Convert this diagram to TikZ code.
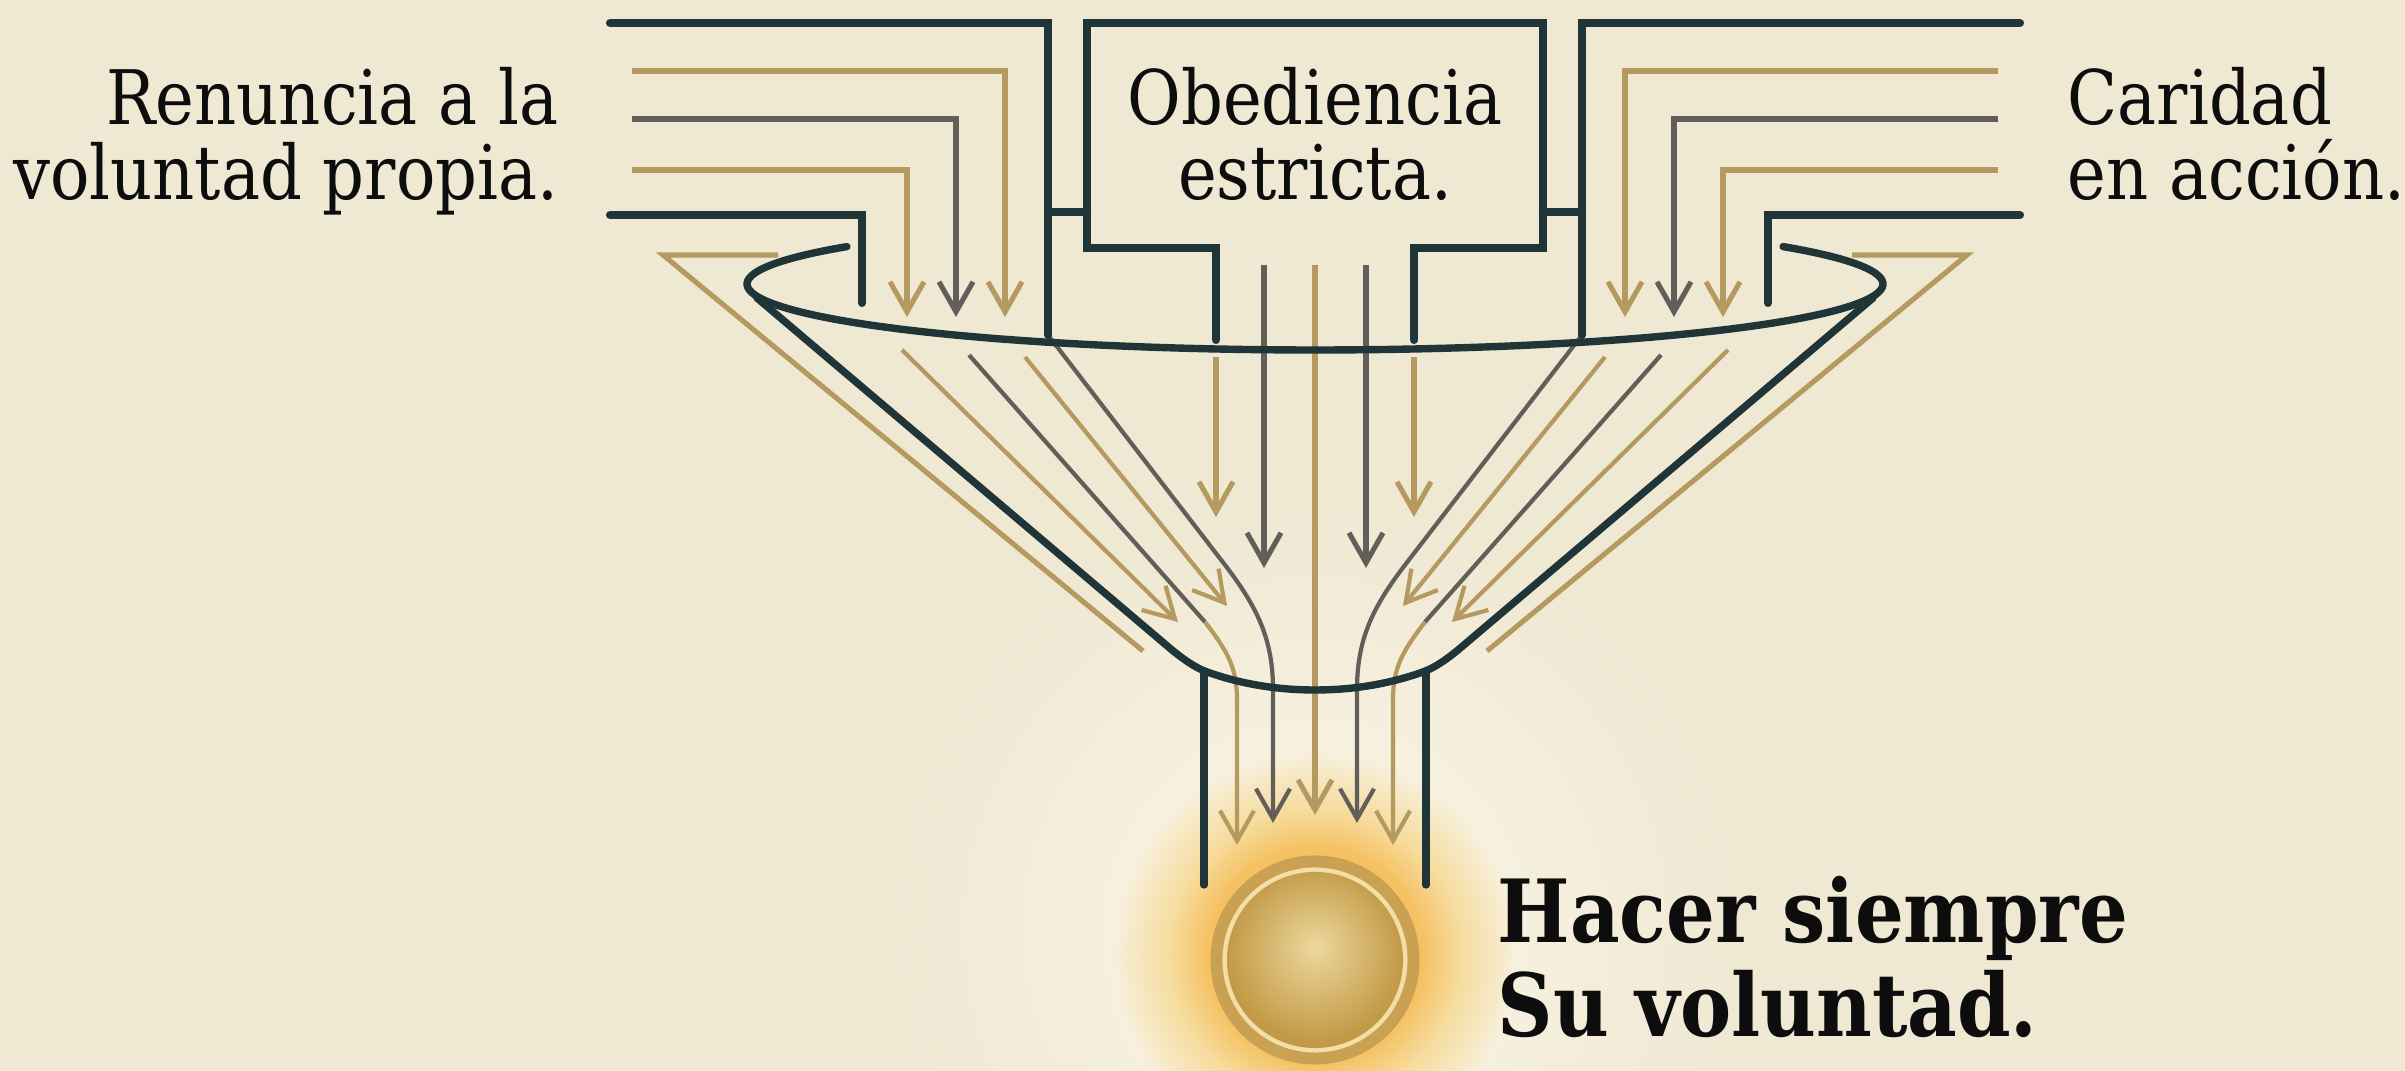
\documentclass[tikz,border=0pt]{standalone}
\usepackage{fontspec}
\newfontfamily\regf[FakeStretch=0.87]{DejaVu Serif}
\newfontfamily\boldf[FakeStretch=0.88]{DejaVu Serif Bold}
\usetikzlibrary{arrows.meta}
\definecolor{bg}{HTML}{EFE8D3}
\definecolor{halo}{HTML}{F7F1E0}
\definecolor{dkc}{HTML}{1F3538}
\definecolor{grc}{HTML}{625F5A}
\definecolor{brc}{HTML}{B49A5E}
\definecolor{glowc}{HTML}{F5C162}
\definecolor{glowmid}{HTML}{F6DDA0}
\definecolor{ringc}{HTML}{C9A152}
\definecolor{ringlight}{HTML}{F1DEA8}
\definecolor{ballin}{HTML}{EDD89D}
\definecolor{ballout}{HTML}{C29A47}
\definecolor{txtc}{HTML}{0D0D0D}
\pgfdeclareradialshading{bighalo}{\pgfpoint{0bp}{0bp}}{color(0bp)=(halo); color(10bp)=(halo); color(25bp)=(bg); color(50bp)=(bg)}
\pgfdeclareradialshading{ballglow}{\pgfpoint{0bp}{0bp}}{color(0bp)=(glowc); color(13bp)=(glowc); color(18bp)=(glowmid); color(25bp)=(halo); color(50bp)=(halo)}
\pgfdeclareradialshading{ballfill}{\pgfpoint{0bp}{4bp}}{color(0bp)=(ballin); color(25bp)=(ballout); color(50bp)=(ballout)}
\tikzset{
  dk/.style={draw=dkc, line width=2.3pt, line cap=round, line join=miter},
  fun/.style={draw=dkc, line width=2.1pt, line cap=round, line join=round},
  br/.style={draw=brc, line width=1.45pt},
  gr/.style={draw=grc, line width=1.45pt},
  bri/.style={draw=brc, line width=1.2pt},
  gri/.style={draw=grc, line width=1.2pt},
  arr/.style={-{Straight Barb[length=3mm,width=3.4mm]}},
  txt/.style={text=txtc, inner sep=0pt, font=\regf\fontsize{21.4}{21.4}\selectfont},
  btxt/.style={text=txtc, inner sep=0pt, font=\boldf\fontsize{24.8}{27}\selectfont},
}
\begin{document}
\begin{tikzpicture}[x=0.01cm, y=-0.01cm]
\useasboundingbox (0,0) rectangle (2405,1071);
\fill[bg] (0,0) rectangle (2405,1071);
% halo and glow
\shade[shading=bighalo] (1315,930) circle (4.2cm);
\shade[shading=ballglow] (1315,955) circle (2.05cm);
% outer brown lines
\draw[br] (778,255) -- (663,255) -- (1143,651);
\draw[br] (1852,255) -- (1967,255) -- (1487,651);
% center lines
\draw[gr, arr] (1264,265) -- (1264,568);
\draw[br, arr] (1315,265) -- (1315,815);
\draw[gr, arr] (1366,265) -- (1366,568);
\draw[br, arr] (1216,357) -- (1216,517);
\draw[br, arr] (1414,357) -- (1414,517);
% interior left
\draw[bri, arr] (902,350) -- (1178,622);
\draw[gri] (969,355) -- (1205,622);
\draw[bri, arr] (1205,622) .. controls (1228,652) and (1237,668) .. (1237,700) -- (1237,845);
\draw[bri, arr] (1025,357) -- (1227,606);
\draw[gri, arr] (1048,335) -- (1225,565) .. controls (1258,608) and (1273,640) .. (1273,690) -- (1273,823);
% interior right
\draw[bri, arr] (1728,350) -- (1452,622);
\draw[gri] (1661,355) -- (1425,622);
\draw[bri, arr] (1425,622) .. controls (1402,652) and (1393,668) .. (1393,700) -- (1393,845);
\draw[bri, arr] (1605,357) -- (1403,606);
\draw[gri, arr] (1582,335) -- (1405,565) .. controls (1372,608) and (1357,640) .. (1357,690) -- (1357,823);
% funnel
\draw[fun] plot[domain=-34.5:214.5, samples=120, smooth] ({1315+568*cos(\x)},{284+66*sin(\x)});
\draw[fun] (757,298) -- (1172,650) .. controls (1188,663) and (1198,669) .. (1210,673) .. controls (1245,685) and (1280,690) .. (1315,690) .. controls (1350,690) and (1385,685) .. (1420,673) .. controls (1432,669) and (1442,663) .. (1458,650) -- (1873,298);
\draw[fun] (1204,671) -- (1204,885);
\draw[fun] (1426,671) -- (1426,885);
% left group
\draw[dk] (610,23) -- (1048,23) -- (1048,335);
\draw[br, arr] (632,71) -- (1005,71) -- (1005,317);
\draw[gr, arr] (632,119) -- (956,119) -- (956,317);
\draw[br, arr] (632,170) -- (907,170) -- (907,317);
\draw[dk] (610,215) -- (862,215) -- (862,303);
\draw[dk] (1048,212) -- (1087,212);
% center box
\draw[dk] (1216,340) -- (1216,248) -- (1087,248) -- (1087,23) -- (1543,23) -- (1543,248) -- (1414,248) -- (1414,340);
\draw[dk] (1543,212) -- (1582,212);
% right group
\draw[dk] (2020,23) -- (1582,23) -- (1582,335);
\draw[br, arr] (1998,71) -- (1625,71) -- (1625,317);
\draw[gr, arr] (1998,119) -- (1674,119) -- (1674,317);
\draw[br, arr] (1998,170) -- (1723,170) -- (1723,317);
\draw[dk] (2020,215) -- (1768,215) -- (1768,303);
% ball
\fill[ringc] (1315,960) circle (1.045cm);
\fill[ringlight] (1315,960) circle (0.925cm);
\shade[shading=ballfill] (1315,960) circle (0.88cm);
% text
\node[txt, anchor=base east, align=right] (renuncia) at (559,200) {Renuncia a la\\voluntad propia.};
\node[txt, anchor=base, align=center] (obed) at (1315,200) {Obediencia\\estricta.};
\node[txt, anchor=base west, align=left] (caridad) at (2067,200) {Caridad\\en acción.};
\node[btxt, anchor=base west, align=left] (hacer) at (1497,1037) {Hacer siempre\\Su voluntad.};
\end{tikzpicture}
\end{document}
